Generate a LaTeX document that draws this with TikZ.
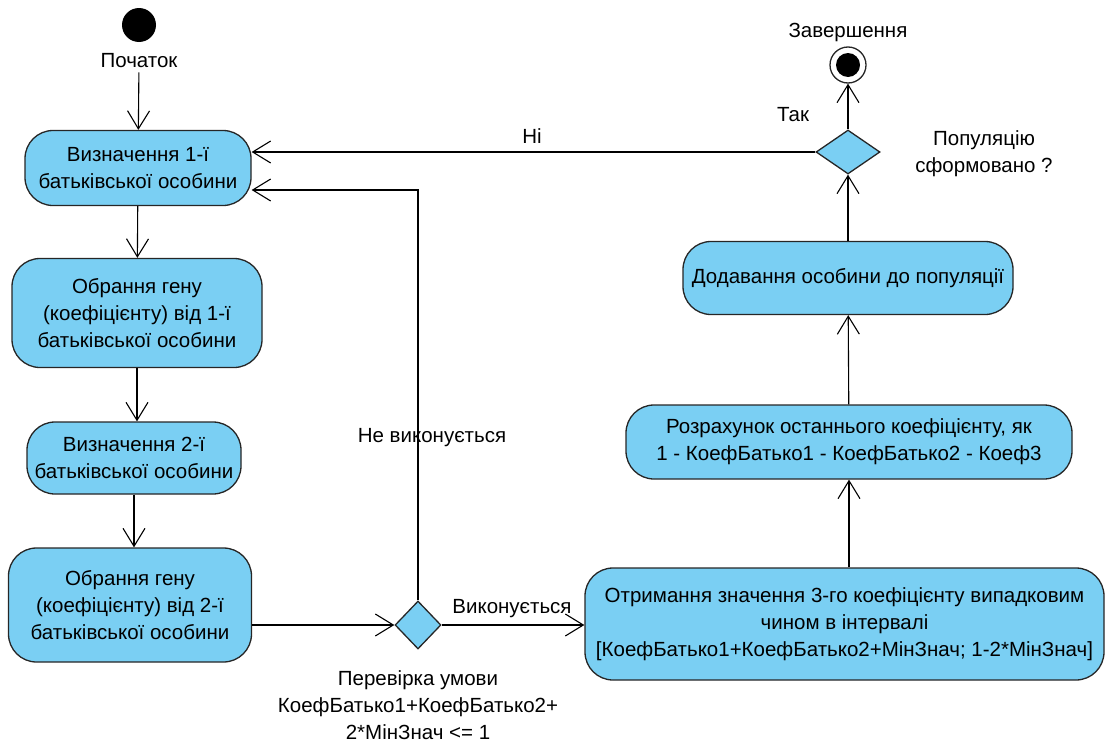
\documentclass[tikz,border=0pt]{standalone}
\usepackage{fontspec}
\setmainfont{Liberation Sans}
\usetikzlibrary{shapes.geometric,arrows.meta}
\definecolor{actfill}{RGB}{122,207,243}
\newcommand{\txt}{\fontsize{20.5}{27}\selectfont}
\tikzset{
  act/.style={draw=black!85, line width=1.3pt, fill=actfill, rounded corners=28pt,
    align=center, inner sep=0pt},
  choice/.style={diamond, draw=black!85, line width=1.3pt, fill=actfill, inner sep=0pt,
    minimum width=#1},
  flow/.style={line width=1.1pt, -{Straight Barb[length=18pt,width=22pt,line width=1.1pt]}},
  lbl/.style={align=center, inner sep=0pt}
}

\begin{document}
\begin{tikzpicture}[x=1pt, y=-1pt, font=\txt]
\useasboundingbox (0,0) rectangle (1106,744);

% left column
\node[circle, fill=black, minimum size=34pt, inner sep=0pt] (init) at (139,25) {};
\node[lbl] (initlbl) at (139,61) {Початок};
\node[act, minimum width=226pt, minimum height=75pt] (par1) at (138,168)
  {Визначення 1-ї\\батьківської особини};
\node[act, minimum width=250pt, minimum height=109pt] (gene1) at (137,313)
  {Обрання гену\\(коефіцієнту) від 1-ї\\батьківської особини};
\node[act, minimum width=214pt, minimum height=72pt] (par2) at (134,458)
  {Визначення 2-ї\\батьківської особини};
\node[act, minimum width=243pt, minimum height=114pt] (gene2) at (130,605)
  {Обрання гену\\(коефіцієнту) від 2-ї\\батьківської особини};
\node[choice=46pt, minimum height=48pt] (check) at (418,625) {};

% right column
\node[act, minimum width=519pt, minimum height=112pt] (coef3) at (844.5,624)
  {Отримання значення 3-го коефіцієнту випадковим\\чином в інтервалі\\{}[КоефБатько1+КоефБатько2+МінЗнач; 1-2*МінЗнач]};
\node[act, minimum width=446pt, minimum height=74pt] (last) at (849,442)
  {Розрахунок останнього коефіцієнту, як\\1 - КоефБатько1 - КоефБатько2 - Коеф3};
\node[act, minimum width=330pt, minimum height=73pt] (add) at (848,278)
  {Додавання особини до популяції};
\node[choice=64pt, minimum height=44pt] (done) at (848,152) {};
\node[circle, draw=black!85, line width=1.3pt, fill=white, minimum size=36pt, inner sep=0pt] (fin) at (848,65) {};
\fill (fin.center) circle (12);
\node[lbl] (finlbl) at (848,32) {Завершення};

% labels
\node[lbl] (no) at (532,136) {Ні};
\node[lbl] (yes) at (793,115) {Так};
\node[lbl] (formed) at (984,154) {Популяцію\\сформовано ?};
\node[lbl] (failed) at (432,438) {Не виконується};
\node[lbl] (passed) at (512,609) {Виконується};
\node[lbl] (cond) at (418,705) {Перевірка умови\\КоефБатько1+КоефБатько2+\\2*МінЗнач <= 1};

% transitions
\draw[flow, shorten <=4pt] (initlbl) -- (par1);
\draw[flow] (par1) -- (gene1);
\draw[flow] (gene1) -- (gene1 |- par2.north);
\draw[flow] (par2) -- (par2 |- gene2.north);
\draw[flow] (gene2.east |- check) -- (check);
\coordinate (back) at (418,190);
\draw[flow] (check) -- (back) -- (back -| par1.east);
\draw[flow] (check) -- (check -| coef3.west);
\draw[flow] (last |- coef3.north) -- (last);
\draw[flow] (last) -- (add);
\draw[flow] (add) -- (done);
\draw[flow] (done) -- (fin);
\draw[flow] (done) -- (done -| par1.east);

\end{tikzpicture}
\end{document}
